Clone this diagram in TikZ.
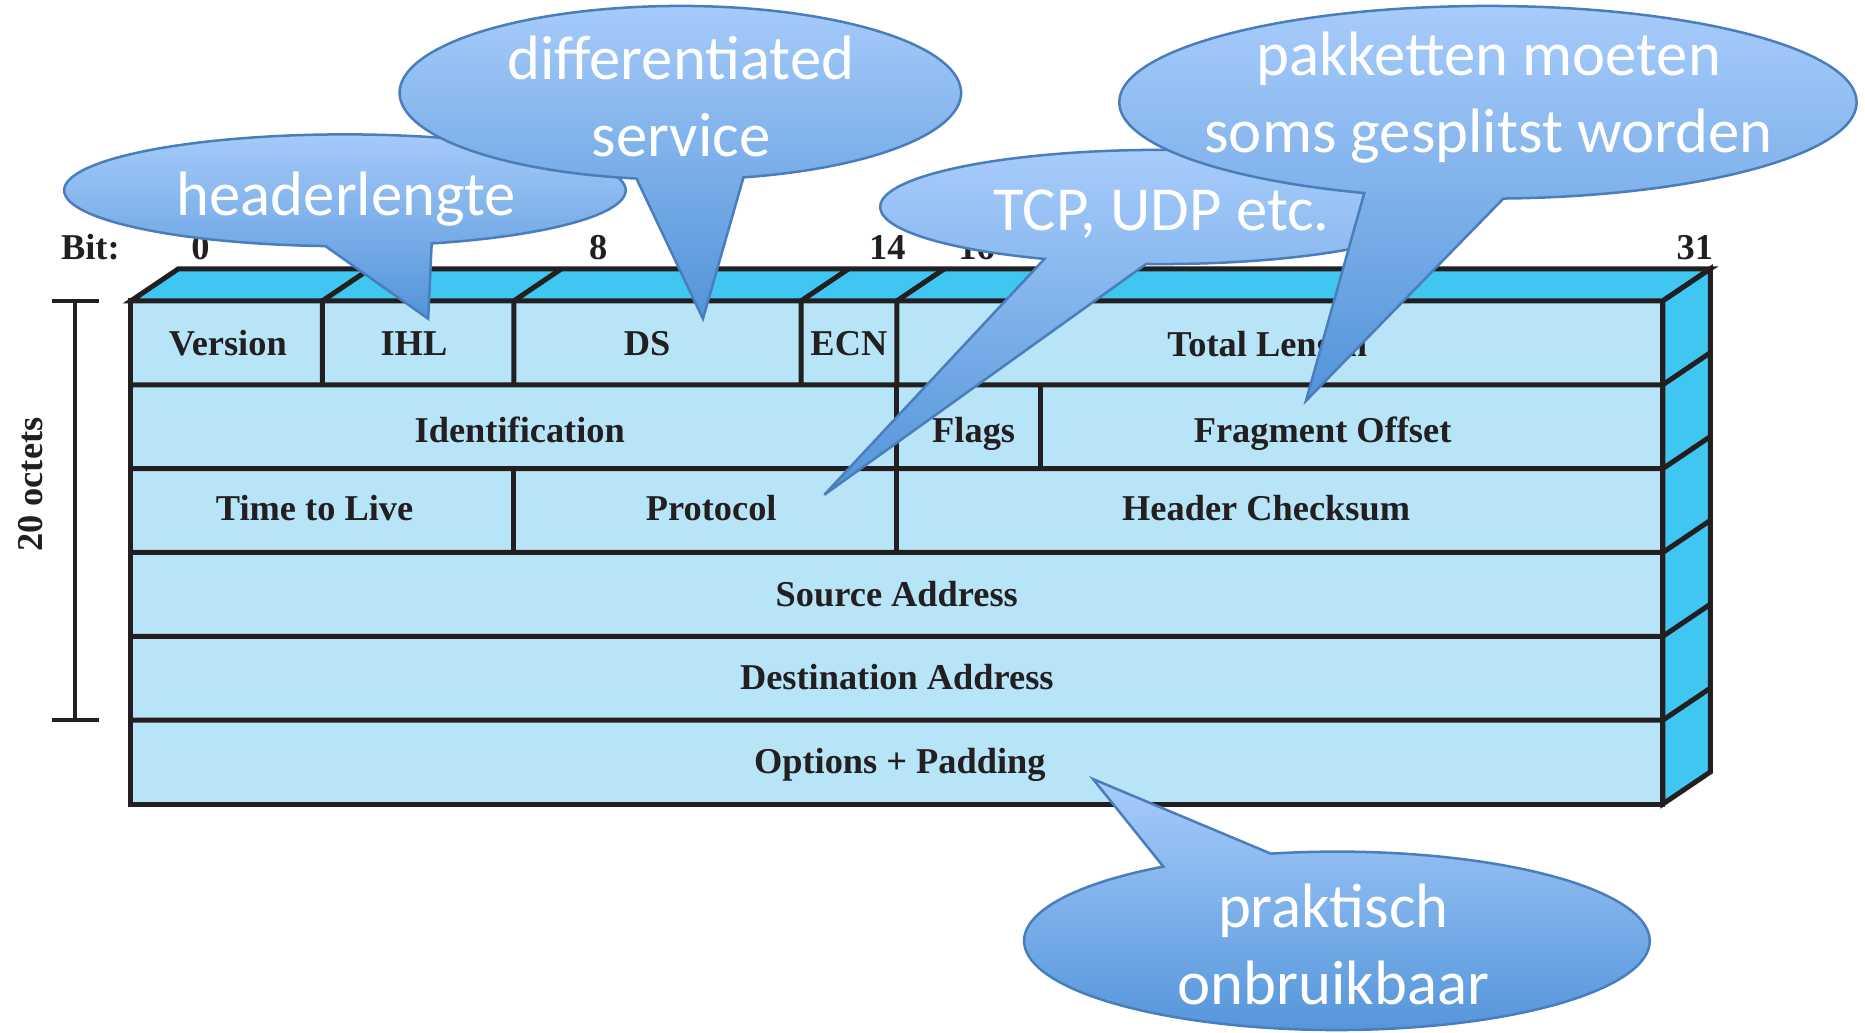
\documentclass[tikz,border=0pt]{standalone}
\usepackage{fontspec}
\setmainfont{Liberation Serif}
\newfontfamily\balloonfont{Carlito}

\definecolor{frontblue}{RGB}{184,228,248}
\definecolor{sideblue}{RGB}{64,199,241}
\definecolor{edgegray}{RGB}{35,31,32}
\definecolor{balloontop}{RGB}{168,204,251}
\definecolor{balloonbot}{RGB}{82,148,217}
\definecolor{balloonedge}{RGB}{74,126,187}

\begin{document}
\begin{tikzpicture}[x=0.1mm, y=-0.1mm,
field/.style={font=\bfseries\fontsize{8.7}{10}\selectfont, text=edgegray, inner sep=0pt, anchor=base},
face/.style={fill=frontblue, draw=edgegray, line width=1.2pt},
side/.style={fill=sideblue, draw=edgegray, line width=1.2pt},
rule/.style={draw=edgegray, line width=1.2pt},
bracket/.style={draw=edgegray, line width=1pt},
balloon/.style={draw=balloonedge, line width=0.6pt, top color=balloontop, bottom color=balloonbot},
balloontext/.style={text=white, font=\balloonfont\fontsize{15}{18.4}\selectfont, align=center, inner sep=0pt}]

\useasboundingbox (0,0) rectangle (1568,868);

% the header block
\filldraw[face] (110,253) rectangle (1398,676);
\filldraw[side] (110,253) -- (150,226) -- (1438,226) -- (1398,253) -- cycle;
\filldraw[side] (1398,253) -- (1438,226) -- (1438,649) -- (1398,676) -- cycle;
\foreach \y in {323.5,394,464.5,535,605.5}
  \draw[rule] (110,\y) -- (1398,\y) -- ++(40,-27);
\foreach \x in {271,432,673.5,754}
  \draw[rule] (\x,323.5) -- (\x,253) -- ++(40,-27);
\foreach \x in {754,874.75}
  \draw[rule] (\x,323.5) -- (\x,394);
\foreach \x in {432,754}
  \draw[rule] (\x,394) -- (\x,464.5);

% bit numbers
\node[field] (bit)   at (76,218)   {Bit:};
\node[field] (bit0)  at (168.5,218) {0};
\node[field] (bit8)  at (503,218)  {8};
\node[field] (bit14) at (746,218)  {14};
\node[field] (bit16) at (821,218)  {16};
\node[field] (bit31) at (1425,218) {31};

% 20 octets
\draw[bracket] (44,253) -- (83,253);
\draw[bracket] (63,253) -- (63,605.5);
\draw[bracket] (44,605.5) -- (83,605.5);
\node[field, rotate=90, anchor=center] (octets) at (26,407.5) {20 octets};

% fields
\node[field] (version)  at (191.5,299)  {Version};
\node[field] (ihl)      at (348,299)    {IHL};
\node[field] (ds)       at (544,299)    {DS};
\node[field] (ecn)      at (713.7,299)  {ECN};
\node[field] (totlen)   at (1065.5,300) {Total Length};
\node[field] (ident)    at (437,372)    {Identification};
\node[field] (flags)    at (818.6,372)  {Flags};
\node[field] (fragoff)  at (1112,372)   {Fragment Offset};
\node[field] (ttl)      at (264.5,438)  {Time to Live};
\node[field] (proto)    at (598,438)    {Protocol};
\node[field] (checksum) at (1064.5,438) {Header Checksum};
\node[field] (srcaddr)  at (754,509.5)  {Source Address};
\node[field] (dstaddr)  at (754,580)    {Destination Address};
\node[field] (options)  at (756.5,650.5) {Options + Padding};

% balloons
\coordinate (hdrc) at (290,160);
\coordinate (hdrtip) at (360,268);
\draw[balloon] (hdrc) ++(72:236 and 47) arc[start angle=72, end angle=-266, x radius=236, y radius=47] -- (hdrtip) -- cycle;
\node[balloontext, anchor=base] (hdrtext) at (291,181) {headerlengte};

\coordinate (dsc) at (572,78);
\coordinate (dstip) at (591,268);
\draw[balloon] (dsc) ++(77:236 and 73) arc[start angle=77, end angle=-261, x radius=236, y radius=73] -- (dstip) -- cycle;
\node[balloontext] (dstext) at (572.5,81) {differentiated\\service};

\coordinate (protoc) at (976,174);
\coordinate (prototip) at (693,416);
\draw[balloon] (protoc) ++(93:236 and 48) arc[start angle=93, end angle=-245.5, x radius=236, y radius=48] -- (prototip) -- cycle;
\node[balloontext, anchor=base] (prototext) at (976.5,193.4) {TCP, UDP etc.};

\coordinate (fragc) at (1251,86);
\coordinate (fragtip) at (1098,337);
\draw[balloon] (fragc) ++(87.6:310 and 81) arc[start angle=87.6, end angle=-250.4, x radius=310, y radius=81] -- (fragtip) -- cycle;
\node[balloontext] (fragtext) at (1251.5,82) {pakketten moeten\\soms gesplitst worden};

\coordinate (optc) at (1124,791);
\coordinate (opttip) at (919,655);
\draw[balloon] (optc) ++(257.8:263 and 75) arc[start angle=257.8, end angle=596.3, x radius=263, y radius=75] -- (opttip) -- cycle;
\node[balloontext] (opttext) at (1121,794) {praktisch\\onbruikbaar};

\end{tikzpicture}
\end{document}
